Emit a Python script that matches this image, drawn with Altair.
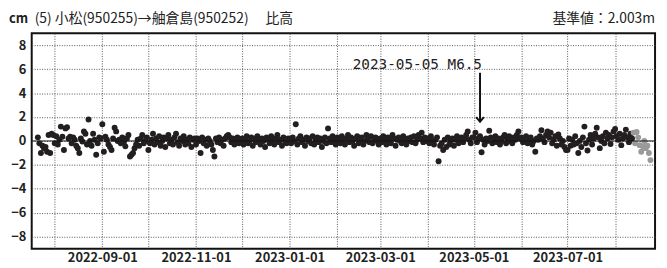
import altair as alt
import pandas as pd

# ---- data (daily relative height, cm) ----
start_date = "2022-07-21"
jul22 = [0.3, -0.2, -1.0, -0.4, -0.6, -0.5, -0.9, 0.5, -1.0, 0.6, 0.5]
aug22 = [-0.2, 0.4, -0.3, 0.1, 1.2, 0.35, -0.75, 1.05, 1.15, 0.2, 0.35, -0.2, 0.3, 0.1, -0.4, -0.6,
         -1.0, 0.2, -0.05, 0.8, 0.6, -0.3, 1.8, 0.0, -0.4, 0.6, 0.1, -1.15, -0.2, 0.3, 0.2]
sep22 = [1.4, -0.9, 0.35, 0.1, -0.3, -0.5, -0.75, 0.2, 1.1, 0.8, 0.0, 0.1, -0.2, 0.3, -0.1, -0.45,
         0.2, 0.5, -1.3, -1.15, -1.0, -0.6, -0.3, 0.1, -0.4, 0.2, 0.5, -0.2, 0.0, 0.3]
oct22 = [-0.75, -0.2, 0.1, 0.6, -0.3, 0.2, -0.1, 0.4, -0.4, 0.0, 0.3, -0.5, 0.2, 0.5, -0.2, 0.1,
         -0.3, 0.3, 0.6, -0.1, -0.4, 0.2, 0.0, 0.4, -0.3, 0.1, -0.2, 0.3, -0.5, 0.1, 0.2]
nov22 = [-0.3, 0.2, 0.0, -1.0, 0.3, -0.2, 0.1, -0.4, 0.2, 0.0, -0.3, -0.75, -1.3, 0.2, -0.1, 0.3,
         -0.2, 0.1, -0.4, 0.2, 0.4, 0.5, 0.3, -0.1, 0.2, -0.3, 0.0, 0.3, -0.2, 0.1]
dec22 = [0.2, -0.3, 0.1, 0.4, -0.2, 0.0, 0.3, -0.4, 0.2, -0.1, 0.4, 0.1, -0.3, 0.2, 0.0, -0.5,
         0.3, 0.1, -0.2, 0.4, 0.0, -0.3, 0.2, 0.5, -0.1, 0.1, -0.4, 0.3, 0.0, -0.2, 0.2]
jan23 = [0.1, -0.2, 0.3, 0.0, 1.4, -0.3, 0.2, 0.4, -0.1, 0.1, -0.4, 0.3, 0.0, 0.2, -0.2, 0.4,
         -0.3, 0.1, 0.3, -0.1, 0.2, -0.5, 0.0, 0.3, -0.2, 1.05, 0.2, -0.1, 0.4, 0.0, -0.3]
feb23 = [0.3, 0.0, -0.2, 0.4, 0.1, -0.3, 0.2, 0.5, -0.1, 0.3, 0.0, -0.4, 0.2, 0.4, -0.2, 0.1,
         0.3, -0.3, 0.0, 0.5, 0.2, -0.1, 0.4, -0.2, 0.1, 0.3, 0.0, -0.3]
mar23 = [0.2, -0.1, 0.4, 0.0, -0.3, 0.3, 0.1, -0.2, 0.5, 0.2, -0.4, 0.1, 0.3, 0.0, -0.2, 0.4,
         0.1, -0.3, 0.2, 0.0, 0.3, -0.1, 0.4, -0.2, 0.1, 0.5, 0.2, 0.7, -0.1, 0.3, 0.0]
apr23 = [0.2, -0.2, 0.4, 0.0, -0.3, 0.1, 0.3, -1.7, -0.4, -0.2, -0.75, 0.1, -0.5, 0.3, -0.3, 0.0,
         0.2, -0.4, 0.1, 0.4, -0.2, 0.0, 0.3, -0.1, 0.2, 0.5, 0.8, 0.1, -0.2, 0.3]
may23 = [0.3, 0.7, -0.1, 0.2, 0.4, -0.95, 0.1, -0.3, 0.2, 0.0, 0.85, 0.3, -0.2, 0.1, 0.4, -0.1,
         0.2, -0.3, 0.0, 0.3, 0.5, -0.2, 0.1, 0.4, 0.0, -0.2, 0.3, 0.1, 0.5, 0.8, 0.2]
jun23 = [0.3, -0.1, 0.2, 0.4, -0.2, 0.1, 0.3, -0.3, 0.0, -0.9, 0.2, 0.1, 0.4, 0.9, 0.2, -0.1,
         0.5, 0.8, 0.3, 0.7, -0.2, 0.1, 0.4, -0.4, 0.55, 0.2, -0.3, 0.0, -0.5, -0.75]
jul23 = [-0.75, 0.2, -0.4, 0.1, -0.3, 0.4, -0.2, -1.0, 0.0, -0.5, 0.3, 1.2, -0.2, -0.8, 0.1, 0.5,
         -0.3, 0.2, 0.6, 1.1, 0.3, -0.6, 0.0, 0.4, -0.2, 0.7, 0.2, 0.5, -0.25, 0.3, 0.8]
aug23 = [1.0, 0.4, 0.1, 0.6, -0.35, 0.2, 0.5, 0.95, 0.3, -0.1, 0.6, 0.2]
# preliminary (grey) values
aug23_prelim = [0.7, -0.2, 0.75, 0.3, -0.35, -0.9, -0.45, 0.0, -0.6, -0.4, -1.0, -1.6]

x_domain = ["2022-07-17", "2023-08-27"]
month_ticks = ["2022-08-01", "2022-09-01", "2022-10-01", "2022-11-01", "2022-12-01", "2023-01-01",
               "2023-02-01", "2023-03-01", "2023-04-01", "2023-05-01", "2023-06-01", "2023-07-01",
               "2023-08-01"]
y_ticks = [-8, -6, -4, -2, 0, 2, 4, 6, 8]
title_left = "(5) 小松(950255)→舳倉島(950252)　 比高"
title_unit = "cm"
title_right = "基準値：2.003m"
eq_date = "2023-05-05"
eq_label = "2023-05-05 M6.5"

# ---- build table ----
final_vals = (jul22 + aug22 + sep22 + oct22 + nov22 + dec22 + jan23 + feb23 + mar23 + apr23
              + may23 + jun23 + jul23 + aug23)
all_vals = final_vals + aug23_prelim
dates = pd.date_range(start_date, periods=len(all_vals), freq="D")
df = pd.DataFrame({
    "date": dates.strftime("%Y-%m-%d"),
    "value": all_vals,
    "kind": ["final"] * len(final_vals) + ["prelim"] * len(aug23_prelim),
})

FONT = "Noto Sans CJK JP"
W, H = 631, 218

xscale = alt.Scale(type="utc", domain=x_domain)
yscale = alt.Scale(domain=[-9, 9], nice=False)

xaxis = alt.Axis(
    values=[alt.DateTime(year=int(d[:4]), month=int(d[5:7]), date=int(d[8:]), utc=True) for d in month_ticks],
    labelExpr="utcmonth(datum.value) % 2 == 0 ? utcFormat(datum.value, '%Y-%m-%d') : ''",
    title=None, ticks=False, domain=False, labelPadding=3, labelOverlap=False,
    grid=True, gridDash=[1, 1.5], gridColor="#555", gridWidth=1,
    labelFont=FONT, labelFontSize=13, labelFontWeight="bold", labelColor="#222",
)
yaxis = alt.Axis(
    values=y_ticks, title=None, ticks=False, domain=False, labelPadding=6, labelOverlap=False,
    grid=True, gridDash=[1, 1.5], gridColor="#555", gridWidth=1,
    labelFont=FONT, labelFontSize=13, labelFontWeight="bold", labelColor="#222",
)


def X(field):
    return alt.X(field, type="temporal", scale=xscale, axis=xaxis)


def Y(field):
    return alt.Y(field, type="quantitative", scale=yscale, axis=yaxis)


points = alt.Chart(df).mark_circle(size=36, opacity=1).encode(
    x=X("date"),
    y=Y("value"),
    color=alt.Color("kind:N", scale=alt.Scale(domain=["final", "prelim"], range=["#231f20", "#9a9a9a"]),
                    legend=None),
)

zero = alt.Chart(pd.DataFrame({"v": [0]})).mark_rule(color="#111", strokeWidth=1).encode(y=Y("v"))

eq_df = pd.DataFrame({"date": [eq_date], "label": [eq_label], "top": [5.7], "bot": [1.6], "ty": [6.0]})
arrow = alt.Chart(eq_df).mark_rule(color="#111", strokeWidth=2).encode(
    x=X("date"), y=Y("top"), y2="bot:Q"
)
head = alt.Chart(eq_df).mark_point(
    shape="M -1 -1.2 L 0 0 L 1 -1.2", filled=False, stroke="#111", strokeWidth=2, size=60, opacity=1
).encode(x=X("date"), y=Y("bot"))
eq_text = alt.Chart(eq_df).mark_text(
    align="right", baseline="alphabetic", dx=2, font="DejaVu Sans Mono", fontSize=14.5, color="#222"
).encode(x=X("date"), y=Y("ty"), text="label:N")

t_unit = alt.Chart(pd.DataFrame({"t": [title_unit]})).mark_text(
    align="left", baseline="alphabetic", font=FONT, fontSize=13, fontWeight="bold", color="#222"
).encode(x=alt.value(-23), y=alt.value(-10), text="t:N")
t_left = alt.Chart(pd.DataFrame({"t": [title_left]})).mark_text(
    align="left", baseline="alphabetic", font=FONT, fontSize=14, color="#222"
).encode(x=alt.value(3), y=alt.value(-10), text="t:N")
t_right = alt.Chart(pd.DataFrame({"t": [title_right]})).mark_text(
    align="right", baseline="alphabetic", font=FONT, fontSize=14, color="#222"
).encode(x=alt.value(W), y=alt.value(-10), text="t:N")

chart = alt.layer(points, zero, arrow, head, eq_text, t_unit, t_left, t_right).properties(
    width=W, height=H,
    background="white",
    autosize=alt.AutoSizeParams(type="none"),
    padding={"left": 24, "top": 24, "right": 4, "bottom": 18},
).configure_view(stroke="#111", strokeWidth=2)

chart.save("out.html", embed_options={"renderer": "svg", "actions": False})
